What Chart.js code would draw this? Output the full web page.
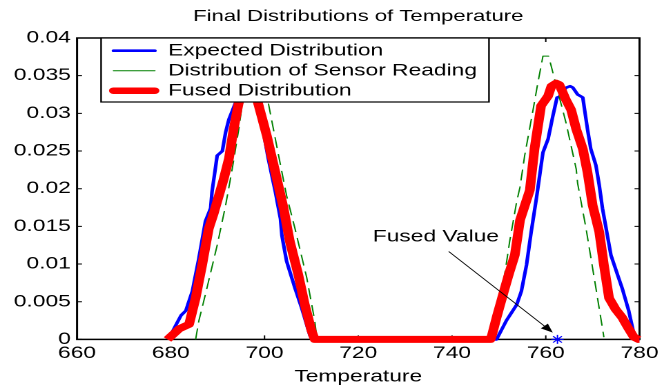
<!DOCTYPE html>
<html>
<head>
<meta charset="utf-8">
<script src="https://cdn.jsdelivr.net/npm/chart.js@4/dist/chart.umd.min.js"></script>
<style>
  html, body { margin: 0; padding: 0; background: #fff; overflow: hidden; }
  /* the figure is laid out narrow and stretched sideways, like the exported plot */
  #wrap { width: 481px; height: 387px; transform: scaleX(1.3805); transform-origin: 0 0; }
</style>
</head>
<body>
<div id="wrap"><canvas id="tempChart"></canvas></div>
<script>
const FONT = "'Liberation Sans', Arial, sans-serif";

const chartTitle = "Final Distributions of Temperature";

// axis ticks
const xTicks = [660, 680, 700, 720, 740, 760, 780];
const yTicks = [0, 0.005, 0.01, 0.015, 0.02, 0.025, 0.03, 0.035, 0.04];
const yTickLabels = ["0", "0.005", "0.01", "0.015", "0.02", "0.025", "0.03", "0.035", "0.04"];

// expected distribution (prior)
const expectedT = [679.5, 681.0, 682.2, 683.2, 684.6, 686.0, 687.4, 688.5, 688.8, 689.9, 691.0, 691.7, 692.4,
  693.8, 695.0, 696.2, 697.2, 698.0, 699.4, 700.8, 702.3, 703.4, 703.7, 704.7, 706.5, 707.9, 709.7, 710.2,
  749.5, 751.6, 753.8, 754.8, 755.9, 756.9, 758.0, 759.4, 760.5, 761.5, 762.4, 762.9, 764.3, 765.2, 765.8,
  766.8, 767.9, 768.9, 769.6, 770.7, 771.4, 772.1, 773.9, 775.3, 776.3, 777.7, 778.8, 779.2, 780.0];
const expectedP = [0, 0.0018, 0.0032, 0.0038, 0.0064, 0.0108, 0.0157, 0.0174, 0.0196, 0.0244, 0.0250, 0.0275, 0.0292,
  0.0314, 0.0335, 0.0345, 0.0340, 0.0314, 0.0288, 0.0240, 0.0196, 0.0160, 0.0138, 0.0104, 0.0068, 0.0042, 0.0005, 0,
  0, 0.0025, 0.0046, 0.0064, 0.0099, 0.0143, 0.0187, 0.0248, 0.0266, 0.0296, 0.0321, 0.0322, 0.0334, 0.0336, 0.0334,
  0.0325, 0.0321, 0.0279, 0.0253, 0.0231, 0.0205, 0.0174, 0.0112, 0.0086, 0.0068, 0.0038, 0.0007, 0, 0];

// distribution of sensor reading
const sensorT = [685.3, 686.0, 687.4, 689.9, 691.7, 693.1, 694.5, 695.2, 697.6, 698.8, 700.8, 703.0, 704.7,
  706.5, 709.0, 710.7, 711.2, 749.0, 750.6, 752.3, 753.8, 754.5, 755.5, 757.3, 758.3, 759.4, 760.6, 764.3,
  766.5, 766.8, 768.6, 770.7, 772.4];
const sensorP = [0, 0.0025, 0.0060, 0.0125, 0.0178, 0.0226, 0.0279, 0.0310, 0.0377, 0.0377, 0.0314, 0.0244, 0.0191,
  0.0147, 0.0082, 0.0025, 0, 0, 0.0060, 0.0130, 0.0183, 0.0202, 0.0244, 0.0305, 0.0340, 0.0376, 0.0376, 0.0288,
  0.0226, 0.0207, 0.0147, 0.0068, 0.0003];

// fused distribution
const fusedT = [679.3, 681.8, 683.9, 685.3, 686.7, 688.1, 689.2, 691.3, 692.4, 693.4, 694.5, 695.8, 697.0, 697.8,
  698.6, 700.5, 702.3, 704.0, 705.4, 707.2, 708.6, 710.0, 710.7,
  748.2, 748.5, 749.5, 750.9, 752.0, 753.4, 754.5, 756.6, 757.6, 759.0, 760.5, 761.2, 762.2, 762.9, 764.3,
  765.4, 766.5, 767.9, 768.9, 770.0, 771.4, 772.4, 773.5, 774.9, 776.3, 777.7, 778.8, 779.8, 780.0];
const fusedP = [0, 0.0014, 0.0020, 0.0055, 0.0099, 0.0147, 0.0168, 0.0213, 0.0240, 0.0279, 0.0314, 0.0340, 0.0350, 0.0340,
  0.0314, 0.0270, 0.0222, 0.0176, 0.0130, 0.0086, 0.0046, 0.0012, 0,
  0, 0.0005, 0.0029, 0.0060, 0.0084, 0.0112, 0.0158, 0.0198, 0.0253, 0.0310, 0.0323, 0.0336, 0.0340, 0.0338, 0.0318,
  0.0305, 0.0279, 0.0253, 0.0222, 0.0178, 0.0143, 0.0099, 0.0055, 0.0040, 0.0029, 0.0014, 0.0003, 0, 0];

const fusedValue = 762.5;

// "Fused Value" note: text anchor and arrow tail, in data units
const noteText = "Fused Value";
const noteAt = { x: 723.1, y: 0.0136 };
const arrowFrom = { x: 739.3, y: 0.01167 };
const arrowTo = { x: 761.5, y: 0.0009 };

const zip = (xs, ys) => xs.map((x, i) => ({ x: x, y: ys[i] }));

// box round the plot with inward tick marks, title centred over the axes
const axesBox = {
  id: "axesBox",
  beforeDatasetsDraw(chart) {
    const { ctx, chartArea: a, scales } = chart;
    ctx.save();
    ctx.strokeStyle = "#000";
    ctx.lineWidth = 1.5;
    ctx.strokeRect(a.left, a.top, a.right - a.left, a.bottom - a.top);
    ctx.lineWidth = 1;
    ctx.beginPath();
    xTicks.forEach(v => {
      const px = scales.x.getPixelForValue(v);
      ctx.moveTo(px, a.bottom); ctx.lineTo(px, a.bottom - 4);
      ctx.moveTo(px, a.top); ctx.lineTo(px, a.top + 4);
    });
    yTicks.forEach(v => {
      const py = scales.y.getPixelForValue(v);
      ctx.moveTo(a.left, py); ctx.lineTo(a.left + 3.6, py);
      ctx.moveTo(a.right, py); ctx.lineTo(a.right - 3.6, py);
    });
    ctx.stroke();
    ctx.fillStyle = "#000";
    ctx.font = "16px " + FONT;
    ctx.textAlign = "center";
    ctx.textBaseline = "middle";
    ctx.fillText(chartTitle, (a.left + a.right) / 2, 16.5);
    ctx.restore();
  }
};

// arrow + label pointing at the fused estimate
const fusedNote = {
  id: "fusedNote",
  afterDatasetsDraw(chart) {
    const { ctx, scales: { x, y } } = chart;
    const x0 = x.getPixelForValue(arrowFrom.x), y0 = y.getPixelForValue(arrowFrom.y);
    const x1 = x.getPixelForValue(arrowTo.x), y1 = y.getPixelForValue(arrowTo.y);
    const ang = Math.atan2(y1 - y0, x1 - x0);
    const len = 9, half = 3.5;
    ctx.save();
    ctx.strokeStyle = "#000";
    ctx.fillStyle = "#000";
    ctx.lineWidth = 0.8;
    ctx.beginPath();
    ctx.moveTo(x0, y0);
    ctx.lineTo(x1 - len * Math.cos(ang), y1 - len * Math.sin(ang));
    ctx.stroke();
    ctx.beginPath();
    ctx.moveTo(x1, y1);
    ctx.lineTo(x1 - len * Math.cos(ang) + half * Math.sin(ang), y1 - len * Math.sin(ang) - half * Math.cos(ang));
    ctx.lineTo(x1 - len * Math.cos(ang) - half * Math.sin(ang), y1 - len * Math.sin(ang) + half * Math.cos(ang));
    ctx.closePath();
    ctx.fill();
    ctx.font = "16.5px " + FONT;
    ctx.textAlign = "left";
    ctx.textBaseline = "middle";
    ctx.fillText(noteText, x.getPixelForValue(noteAt.x), y.getPixelForValue(noteAt.y));
    ctx.restore();
  }
};

// boxed legend in the top-left corner of the plot
const boxLegend = {
  id: "boxLegend",
  afterDraw(chart) {
    const { ctx, chartArea: a } = chart;
    const left = a.left + 17.4, top = a.top, w = 281, h = 64;
    ctx.save();
    ctx.fillStyle = "#fff";
    ctx.fillRect(left, top, w, h);
    ctx.strokeStyle = "#000";
    ctx.lineWidth = 1.2;
    ctx.strokeRect(left, top, w, h);
    ctx.font = "16.5px " + FONT;
    ctx.textBaseline = "middle";
    ctx.fillStyle = "#000";
    chart.data.datasets.slice(0, 3).forEach((ds, i) => {
      const ry = top + 12.7 + i * 20;
      ctx.strokeStyle = ds.borderColor;
      ctx.lineWidth = ds.legendWidth;
      ctx.lineCap = "round";
      ctx.beginPath();
      ctx.moveTo(left + 9, ry);
      ctx.lineTo(left + 39, ry);
      ctx.stroke();
      ctx.fillText(ds.label, left + 48.5, ry + 0.5);
    });
    ctx.restore();
  }
};

const tickFont = { family: FONT, size: 16.5 };

new Chart(document.getElementById("tempChart"), {
  type: "line",
  data: {
    datasets: [
      {
        label: "Expected Distribution",
        data: zip(expectedT, expectedP),
        borderColor: "#0000ff",
        borderWidth: 2.6,
        legendWidth: 2.6,
        order: 3,
        clip: false
      },
      {
        label: "Distribution of Sensor Reading",
        data: zip(sensorT, sensorP),
        borderColor: "#008000",
        borderWidth: 1,
        borderDash: [11, 6],
        legendWidth: 1,
        order: 2,
        clip: false
      },
      {
        label: "Fused Distribution",
        data: zip(fusedT, fusedP),
        borderColor: "#ff0000",
        borderWidth: 7,
        legendWidth: 6.5,
        order: 1,
        clip: false
      },
      {
        label: "Fused Value",
        data: [{ x: fusedValue, y: 0 }],
        showLine: false,
        pointStyle: "star",
        pointRadius: 4.5,
        borderColor: "#0000ff",
        borderWidth: 1,
        order: 0,
        clip: false
      }
    ]
  },
  options: {
    responsive: true,
    maintainAspectRatio: false,
    devicePixelRatio: 2,
    animation: false,
    events: [],
    elements: {
      line: { tension: 0, borderCapStyle: "butt", borderJoinStyle: "round" },
      point: { radius: 0 }
    },
    layout: { padding: { left: 0, right: 14.3, top: 38, bottom: 0 } },
    plugins: {
      legend: { display: false },
      tooltip: { enabled: false },
      title: { display: false }
    },
    scales: {
      x: {
        type: "linear",
        min: 660,
        max: 780,
        afterBuildTicks: s => { s.ticks = xTicks.map(v => ({ value: v })); },
        ticks: { color: "#000", font: tickFont, padding: 4, maxRotation: 0 },
        grid: { display: false, drawTicks: false },
        border: { display: false },
        title: {
          display: true,
          text: "Temperature",
          color: "#000",
          font: { family: FONT, size: 16.5 },
          padding: { top: 0, bottom: 0 }
        }
      },
      y: {
        type: "linear",
        min: 0,
        max: 0.04,
        afterBuildTicks: s => { s.ticks = yTicks.map(v => ({ value: v })); },
        afterFit: s => { s.width = 55.8; },
        ticks: {
          color: "#000",
          font: tickFont,
          padding: 4.5,
          callback: (v, i) => yTickLabels[i]
        },
        grid: { display: false, drawTicks: false },
        border: { display: false }
      }
    }
  },
  plugins: [axesBox, fusedNote, boxLegend]
});
</script>
</body>
</html>
